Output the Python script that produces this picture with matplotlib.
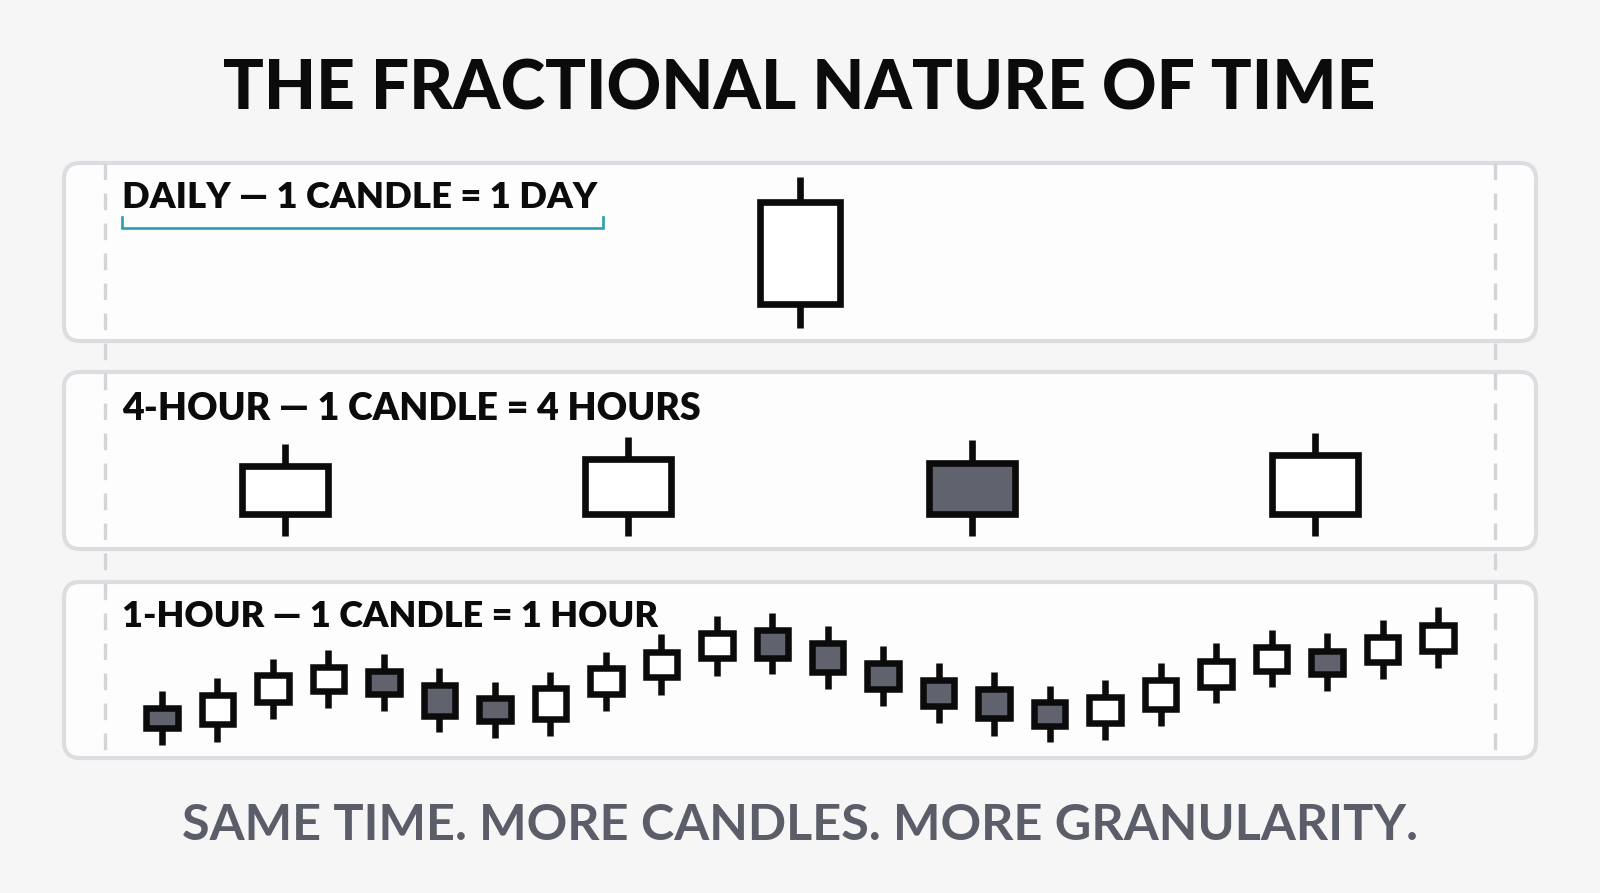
import matplotlib.pyplot as plt
from matplotlib.patches import FancyBboxPatch, Rectangle

# ---- data -------------------------------------------------------------
# daily candle: open, high, low, close
daily_ohlc = [(94.6, 107.3, 92.2, 104.8)]

# 4-hour candles
h4_open = [97.6, 97.6, 102.7, 97.6]
h4_high = [104.6, 105.3, 105.0, 105.7]
h4_low = [95.4, 95.4, 95.4, 95.4]
h4_close = [102.4, 103.1, 97.6, 103.5]

# 1-hour candles
h1_open = [99.2, 97.6, 99.8, 100.9, 102.9, 101.5, 100.2, 98.1, 100.6, 102.3,
           104.2, 107.0, 105.7, 103.7, 102.0, 101.1, 99.8, 97.7, 99.1, 101.3,
           102.9, 104.9, 103.8, 104.9]
h1_high = [100.9, 102.2, 104.1, 105.0, 104.6, 103.2, 101.8, 102.8, 104.8, 106.6,
           108.4, 108.7, 107.4, 105.4, 103.7, 102.8, 101.4, 102.0, 103.7, 105.7,
           107.0, 106.7, 108.0, 109.3]
h1_low = [95.5, 95.8, 98.1, 99.2, 98.9, 96.8, 96.2, 96.4, 98.9, 100.5,
          102.4, 102.6, 101.1, 99.4, 97.7, 96.4, 95.8, 96.0, 97.4, 99.7,
          101.3, 100.9, 102.1, 103.2]
h1_close = [97.2, 100.5, 102.5, 103.3, 100.6, 98.4, 97.9, 101.2, 103.2, 104.8,
            106.7, 104.2, 102.8, 101.1, 99.4, 98.2, 97.4, 100.3, 102.0, 103.9,
            105.3, 102.6, 106.3, 107.5]

title = "THE FRACTIONAL NATURE OF TIME"
panel_labels = ["DAILY — 1 CANDLE = 1 DAY",
                "4-HOUR — 1 CANDLE = 4 HOURS",
                "1-HOUR — 1 CANDLE = 1 HOUR"]
footer = "SAME TIME. MORE CANDLES. MORE GRANULARITY."

# ---- layout (pixels) ---------------------------------------------------
W, H = 1600, 893
BG = "#f6f6f7"
PANEL_FACE = "#fdfdfd"
PANEL_EDGE = "#dcdde0"
INK = "#0b0b0b"
BEAR = "#60626e"
TEAL = "#2b9db5"
GREY_TEXT = "#5b5e68"
FONT = ["Lato", "DejaVu Sans"]

panels = [(64, 163, 1536, 341), (64, 372, 1536, 549), (64, 582, 1536, 758)]
label_base = [208.5, 420, 627]
label_width = [476, 580, 537]

plt.rcParams["font.family"] = FONT

fig = plt.figure(figsize=(W / 100, H / 100), dpi=100, facecolor=BG)
bg = fig.add_axes([0, 0, 1, 1])
bg.set_xlim(0, W)
bg.set_ylim(H, 0)
bg.axis("off")
renderer = fig.canvas.get_renderer()


def fit_width(txt, target):
    for _ in range(2):
        w = txt.get_window_extent(renderer).width
        txt.set_fontsize(txt.get_fontsize() * target / w)


# panel boxes
for x0, y0, x1, y1 in panels:
    bg.add_patch(FancyBboxPatch((x0, y0), x1 - x0, y1 - y0,
                                boxstyle="round,pad=0,rounding_size=16",
                                fc=PANEL_FACE, ec=PANEL_EDGE, lw=3.0, zorder=1))

# dashed time-span guides
for gx in (105, 1495):
    bg.plot([gx, gx], [163, 758], color="#d3d4d7", lw=2.4,
            dashes=(5.0, 4.0), zorder=2, solid_capstyle="butt")

# texts
t = bg.text(799, 109, title, ha="center", va="baseline", fontsize=48,
            fontweight="black", color=INK)
fit_width(t, 1153)
for yb, lab, tw in zip(label_base, panel_labels, label_width):
    t = bg.text(122, yb, lab, ha="left", va="baseline", fontsize=26,
                fontweight="heavy", color=INK, zorder=5)
    fit_width(t, tw)
t = bg.text(800, 840, footer, ha="center", va="baseline", fontsize=32,
            fontweight="bold", color=GREY_TEXT)
fit_width(t, 1235)

# teal bracket under the daily label
bg.plot([122, 122, 603, 603], [217, 227.5, 227.5, 217], color=TEAL, lw=1.9,
        solid_joinstyle="miter", zorder=3)


def panel_ax(box, xlim, ylim):
    x0, y0, x1, y1 = box
    ax = fig.add_axes([x0 / W, 1 - y1 / H, (x1 - x0) / W, (y1 - y0) / H])
    ax.set_xlim(*xlim)
    ax.set_ylim(*ylim)
    ax.axis("off")
    ax.patch.set_alpha(0)
    return ax


def candle(ax, x, o, h, l, c, width, lw):
    top, bot = max(o, c), min(o, c)
    fill = BEAR if c < o else "white"
    ax.plot([x, x], [top, h], color=INK, lw=lw, solid_capstyle="butt", zorder=3)
    ax.plot([x, x], [bot, l], color=INK, lw=lw, solid_capstyle="butt", zorder=3)
    ax.add_patch(Rectangle((x - width / 2, bot), width, top - bot, fc=fill,
                           ec=INK, lw=lw, joinstyle="miter", zorder=4))


# daily
ax1 = panel_ax(panels[0], (-1, 1), (90.9, 108.7))
for o, h, l, c in daily_ohlc:
    candle(ax1, 0, o, h, l, c, 0.1077, 4.8)

# 4-hour
ax2 = panel_ax(panels[1], (-0.6437, 3.6441), (94.1, 111.8))
for i in range(len(h4_open)):
    candle(ax2, i, h4_open[i], h4_high[i], h4_low[i], h4_close[i], 0.2505, 4.8)

# 1-hour
ax3 = panel_ax(panels[2], (-1.766, 24.766), (94.2, 111.8))
for i in range(len(h1_open)):
    candle(ax3, i, h1_open[i], h1_high[i], h1_low[i], h1_close[i], 0.568, 4.7)

fig.savefig("out.png", dpi=100, facecolor=BG)
